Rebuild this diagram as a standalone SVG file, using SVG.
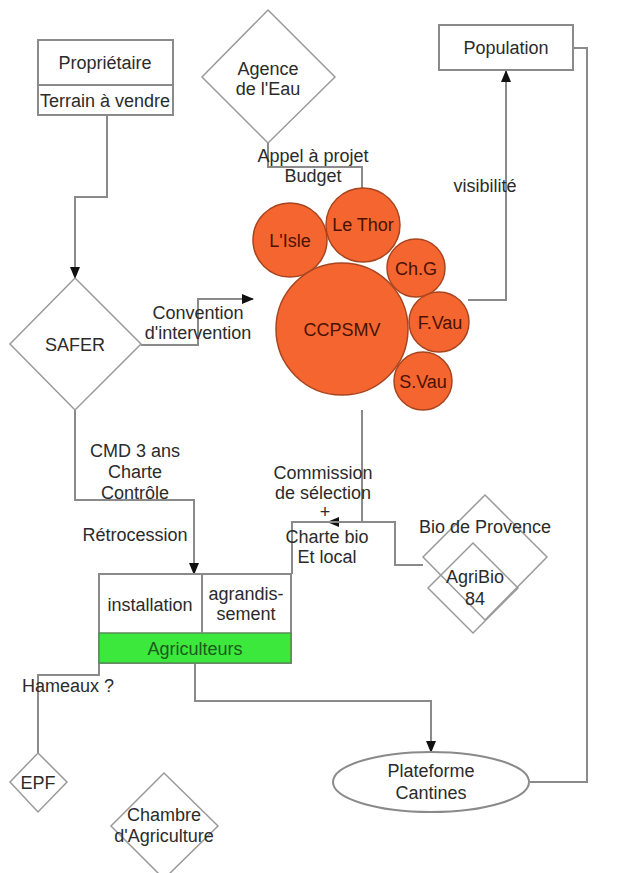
<svg xmlns="http://www.w3.org/2000/svg" width="622" height="873" viewBox="0 0 622 873">
<style>
text{font-family:"Liberation Sans",Arial,sans-serif;font-size:18px;fill:#2b2b2b;text-anchor:middle}
.box{fill:#fff;stroke:#8a8a8a;stroke-width:2}
.dia{fill:none;stroke:#9a9a9a;stroke-width:1.5}
.circ{fill:#f5652f;stroke:#a8451f;stroke-width:1.5}
.ct{fill:#4a1200}
.con{fill:none;stroke:#8a8a8a;stroke-width:2}
.arr{marker-end:url(#ah)}
</style>
<defs>
<marker id="ah" markerWidth="12" markerHeight="10" refX="11" refY="5" orient="auto" markerUnits="userSpaceOnUse">
<path d="M0,0 L12,5 L0,10 z" fill="#111"/>
</marker>
</defs>
<rect width="622" height="873" fill="#fff"/>
<g id="connectors">
<path class="con arr" d="M107,115 V197 H75 V278"/>
<path class="con arr" d="M141,345 H198 V299 H253"/>
<path class="con" d="M268,143 V167 H362 V188"/>
<path class="con arr" d="M468,300 H506 V71"/>
<path class="con" d="M530,782 H587 V48 H573"/>
<path class="con arr" d="M75,410 V500 H194 V574"/>
<path class="con arr" d="M362,410 V522 H328"/>
<path class="con" d="M292,574 V522 H395 V565 H423"/>
<path class="con arr" d="M195,663 V701 H431 V752"/>
<path class="con" d="M99,663 V675 H38 V753"/>
</g>
<g id="proprietaire">
<rect class="box" x="38" y="40" width="135" height="75"/>
<line x1="38" y1="85" x2="173" y2="85" stroke="#8a8a8a" stroke-width="2"/>
<text x="105" y="69">Propriétaire</text>
<text x="105" y="107">Terrain à vendre</text>
</g>
<g id="agence">
<polygon class="dia" points="268,10 335,77 268,143 202,77"/>
<text x="268" y="75">Agence</text>
<text x="268" y="95">de l'Eau</text>
</g>
<g id="population">
<rect class="box" x="439" y="25" width="134" height="45"/>
<text x="506" y="54">Population</text>
</g>
<g id="safer">
<polygon class="dia" points="75,278 141,344 75,410 10,344"/>
<text x="75" y="351">SAFER</text>
</g>
<g id="ccpsmv">
<circle class="circ" cx="290" cy="240" r="37"/>
<circle class="circ" cx="363" cy="225" r="37"/>
<circle class="circ" cx="416" cy="268" r="29"/>
<circle class="circ" cx="342" cy="329" r="66"/>
<circle class="circ" cx="439" cy="322" r="30"/>
<circle class="circ" cx="423" cy="381" r="29"/>
<text class="ct" x="290" y="247">L'Isle</text>
<text class="ct" x="363" y="231">Le Thor</text>
<text class="ct" x="416" y="275">Ch.G</text>
<text class="ct" x="342" y="336">CCPSMV</text>
<text class="ct" x="440" y="329">F.Vau</text>
<text class="ct" x="423" y="388">S.Vau</text>
</g>
<g id="agriculteurs">
<rect class="box" x="99" y="574" width="192" height="89"/>
<rect x="99" y="633" width="192" height="30" fill="#3be83b" stroke="#5a8a5a" stroke-width="1.5"/>
<line x1="202" y1="574" x2="202" y2="633" stroke="#8a8a8a" stroke-width="2"/>
<text x="150" y="611">installation</text>
<text x="246" y="600">agrandis-</text>
<text x="246" y="620">sement</text>
<text x="195" y="655" style="fill:#1d5a1d">Agriculteurs</text>
</g>
<g id="bioprovence">
<polygon class="dia" points="485,495 547,557 485,620 423,557"/>
<text x="485" y="533">Bio de Provence</text>
</g>
<g id="agribio">
<polygon class="dia" points="473,543 518,588 473,633 428,588"/>
<text x="475" y="583">AgriBio</text>
<text x="475" y="605">84</text>
</g>
<g id="plateforme">
<ellipse class="box" cx="431" cy="782" rx="98" ry="30"/>
<text x="431" y="777">Plateforme</text>
<text x="431" y="799">Cantines</text>
</g>
<g id="epf">
<polygon class="dia" points="38,753 67,782 38,812 10,782"/>
<text x="38" y="789">EPF</text>
</g>
<g id="chambre">
<polygon class="dia" points="164,773 218,826 164,879 111,826"/>
<text x="164" y="821">Chambre</text>
<text x="164" y="842">d'Agriculture</text>
</g>
<g id="labels">
<text x="313" y="162">Appel à projet</text>
<text x="313" y="182">Budget</text>
<text x="485" y="192">visibilité</text>
<text x="198" y="319">Convention</text>
<text x="198" y="339">d'intervention</text>
<text x="135" y="457">CMD 3 ans</text>
<text x="135" y="478">Charte</text>
<text x="135" y="499">Contrôle</text>
<text x="135" y="541">Rétrocession</text>
<text x="323" y="479">Commission</text>
<text x="323" y="499">de sélection</text>
<text x="325" y="518" font-size="12">+</text>
<text x="327" y="543">Charte bio</text>
<text x="327" y="563">Et local</text>
<text x="68" y="692">Hameaux ?</text>
</g>
</svg>
